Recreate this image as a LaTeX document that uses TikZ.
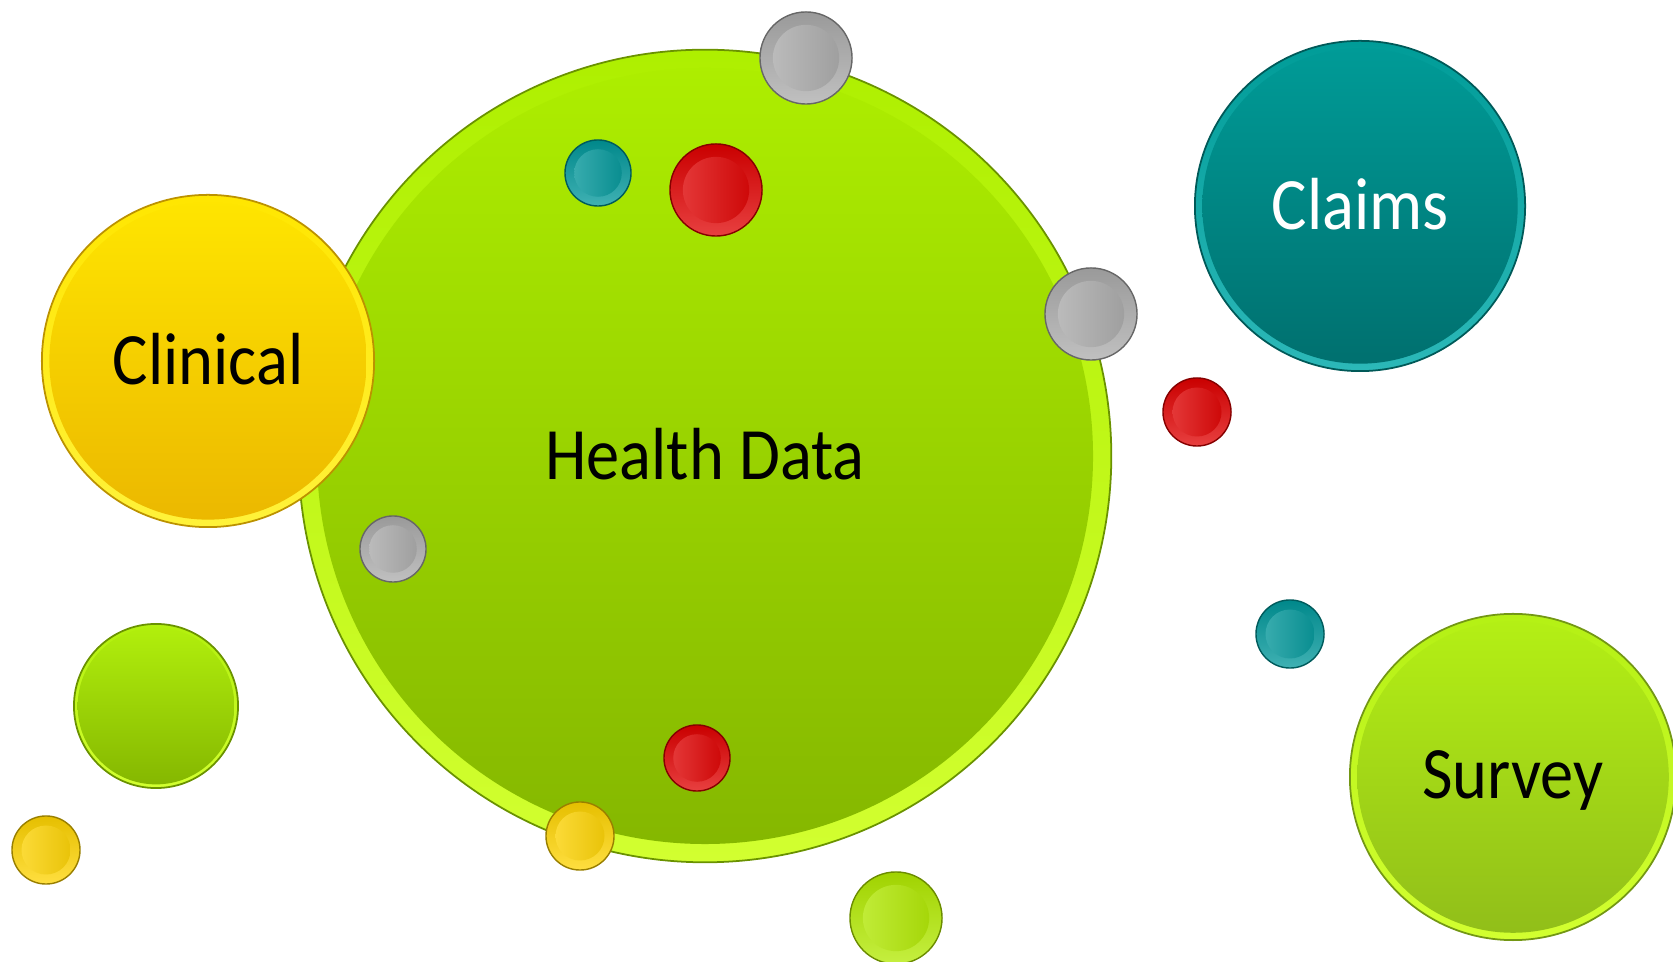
\documentclass[tikz,border=0pt]{standalone}
\usepackage{fontspec}
\newfontfamily\bubfont[FakeStretch=0.9]{Carlito}

\definecolor{limetop}{HTML}{AEEF00}
\definecolor{limebot}{HTML}{84B600}
\definecolor{limerim}{HTML}{D2FF30}
\definecolor{sunnytop}{HTML}{FFE600}
\definecolor{sunnybot}{HTML}{EBB700}
\definecolor{sunnyrim}{HTML}{FFF23A}
\definecolor{tealtop}{HTML}{009C98}
\definecolor{tealbot}{HTML}{006F6E}
\definecolor{tealrim}{HTML}{2CB8B8}
\definecolor{redball}{HTML}{E00000}
\definecolor{tealball}{HTML}{00979A}
\definecolor{grayball}{HTML}{ABABAB}
\definecolor{sunnyball}{HTML}{FFD400}
\definecolor{limeball}{HTML}{B2EA00}

\tikzset{
  bubble/.style n args={4}{circle, inner sep=0pt, minimum size=#1*0.02cm,
    draw=#3!80!black, line width=0.5pt, top color=#2, bottom color=#4,
    path picture={\shade[top color=#2, bottom color=#3]
      (path picture bounding box.center) circle [radius=#1*0.00955cm];},
    font=\bubfont\fontsize{21}{25}\selectfont, text depth=0.14em},
  dot/.style n args={2}{circle, inner sep=0pt, minimum size=#1*0.02cm,
    draw=#2!60!black, line width=0.4pt, top color=#2!90!black, bottom color=#2!75!white,
    path picture={\shade[left color=#2!75!white, right color=#2!90!black]
      (path picture bounding box.center) circle [radius=#1*0.0072cm];}},
}

\begin{document}
\begin{tikzpicture}[x=0.01cm, y=-0.01cm]

\clip (0,0) rectangle (1673,962);
\useasboundingbox (0,0) rectangle (1673,962);

% main bubble
\node[bubble={406}{limetop}{limebot}{limerim}] (hd) at (705,456) {Health Data};

% balls sitting inside it
\node[dot={33}{tealball}] (ttop) at (598,173) {};
\node[dot={46}{redball}] (rtop) at (716,190) {};
\node[dot={33}{grayball}] (gleft) at (393,549) {};
\node[dot={33}{redball}] (rbot) at (697,758) {};

% the three sources
\node[bubble={166}{sunnytop}{sunnybot}{sunnyrim}] (clin) at (208,361) {Clinical};
\node[bubble={165}{tealtop}{tealbot}{tealrim}, text=white] (claims) at (1360,206) {Claims};
\node[bubble={163}{limetop!92!white}{limebot!90!white}{limerim}] (survey) at (1513,777) {Survey};

% loose balls
\node[bubble={82}{limetop!95!white}{limebot}{limerim}] (gsmall) at (156,706) {};
\node[dot={46}{grayball}] (gtop) at (806,58) {};
\node[dot={46}{grayball}] (gright) at (1091,314) {};
\node[dot={34}{redball}] (rright) at (1197,412) {};
\node[dot={34}{tealball}] (tright) at (1290,634) {};
\node[dot={34}{sunnyball}] (ysmall) at (46,850) {};
\node[dot={34}{sunnyball}] (ybot) at (580,836) {};
\node[dot={46}{limeball}] (gbot) at (896,918) {};

\end{tikzpicture}
\end{document}
